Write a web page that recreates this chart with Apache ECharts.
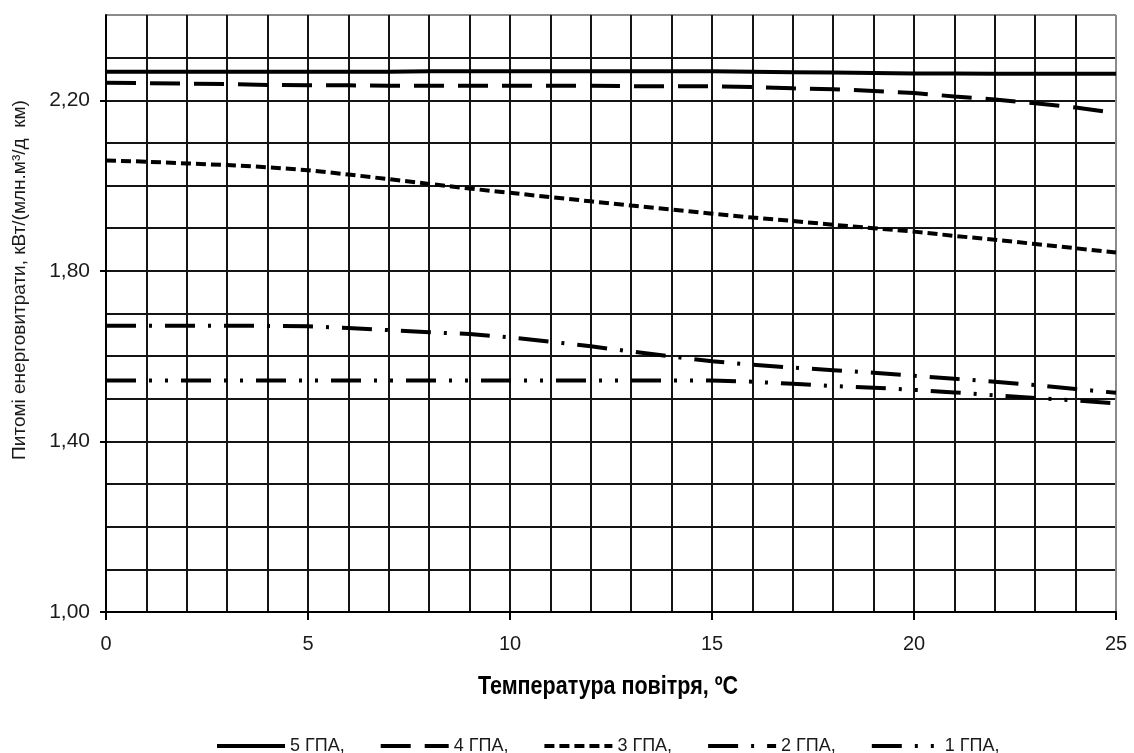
<!DOCTYPE html>
<html>
<head>
<meta charset="utf-8">
<script src="https://cdn.jsdelivr.net/npm/echarts@6/dist/echarts.min.js"></script>
<style>
html,body{margin:0;padding:0;background:#fff;}
#chart{width:1134px;height:753px;}
</style>
</head>
<body>
<div id="chart"></div>
<script>
// ---- data ----
const temps = [0,1,2,3,4,5,6,7,8,9,10,11,12,13,14,15,16,17,18,19,20,21,22,23,24,25];
const seriesNames = ['5 ГПА,', '4 ГПА,', '3 ГПА,', '2 ГПА,', '1 ГПА,'];
const gpa5 = [2.267,2.267,2.267,2.267,2.267,2.267,2.267,2.267,2.268,2.268,2.268,2.268,2.268,2.268,2.268,2.268,2.267,2.266,2.265,2.264,2.263,2.263,2.262,2.262,2.262,2.262];
const gpa4 = [2.241,2.240,2.239,2.238,2.236,2.235,2.235,2.234,2.234,2.234,2.234,2.234,2.234,2.233,2.233,2.233,2.231,2.228,2.226,2.222,2.217,2.209,2.202,2.193,2.183,2.170];
const gpa3 = [2.059,2.056,2.052,2.048,2.043,2.036,2.026,2.015,2.004,1.993,1.983,1.973,1.963,1.953,1.944,1.934,1.925,1.917,1.908,1.900,1.892,1.882,1.873,1.863,1.853,1.843];
const gpa2 = [1.671,1.671,1.671,1.671,1.671,1.670,1.666,1.661,1.656,1.652,1.644,1.634,1.623,1.611,1.599,1.588,1.580,1.573,1.567,1.561,1.554,1.547,1.540,1.532,1.523,1.514];
const gpa1 = [1.543,1.543,1.543,1.543,1.543,1.543,1.543,1.543,1.543,1.543,1.543,1.543,1.543,1.543,1.543,1.543,1.540,1.535,1.530,1.526,1.521,1.515,1.508,1.502,1.496,1.489];
const xTickLabels = [0,5,10,15,20,25];
const yTickLabels = [1.0,1.4,1.8,2.2];
const xTitle = 'Температура повітря, ºC';
const yTitle = 'Питомі енерговитрати, кВт/(млн.м³/д  км)';

// ---- chart ----
const FONT = "'Liberation Sans', Arial, sans-serif";
const dashes = ['solid', [30,14], [10,5], [30,13,3,13], [30,13,3,13,3,13]];
const allSeries = [gpa5, gpa4, gpa3, gpa2, gpa1];

function gridColors(n){ const a=[]; for(let i=0;i<n;i++) a.push(i===n-1?'#8a8a8a':'#141414'); return a; }

const chart = echarts.init(document.getElementById('chart'), null, {renderer:'canvas'});
chart.setOption({
  animation:false,
  backgroundColor:'#fff',
  grid:{left:106,right:18,top:15,bottom:141,containLabel:false},
  xAxis:[{
    type:'value', position:'bottom', min:0, max:25, interval:1,
    axisLine:{show:true,onZero:false,lineStyle:{color:'#000',width:2}},
    axisTick:{show:false}, axisLabel:{show:false},
    splitLine:{show:true,lineStyle:{color:gridColors(26),width:2}}
  },{
    type:'value', position:'bottom', offset:0, min:0, max:25, interval:5,
    axisLine:{show:false},
    axisTick:{show:true,customValues:xTickLabels,length:8,lineStyle:{color:'#000',width:2}},
    axisLabel:{customValues:xTickLabels,fontFamily:FONT,fontSize:20,color:'#1a1a1a',margin:22},
    splitLine:{show:false}
  }],
  yAxis:[{
    type:'value', position:'left', min:1.0, max:2.4, interval:0.1,
    axisLine:{show:true,onZero:false,lineStyle:{color:'#000',width:2}},
    axisTick:{show:false}, axisLabel:{show:false},
    splitLine:{show:true,lineStyle:{color:gridColors(15),width:2}}
  },{
    type:'value', position:'left', offset:0, min:1.0, max:2.4, interval:0.2,
    axisLine:{show:false},
    axisTick:{show:true,customValues:yTickLabels,length:6,lineStyle:{color:'#000',width:2}},
    axisLabel:{customValues:yTickLabels,fontFamily:FONT,fontSize:21,color:'#1a1a1a',margin:16,
      formatter:v=>v.toFixed(2).replace('.',',')},
    splitLine:{show:false}
  }],
  legend:{
    left:210, top:732, itemWidth:68, itemHeight:14, itemGap:34,
    itemStyle:{opacity:0},
    lineStyle:{width:4},
    textStyle:{fontFamily:FONT,fontSize:18,color:'#1a1a1a'},
    data:seriesNames
  },
  series: allSeries.map((vals,i)=>({
    name:seriesNames[i], type:'line', symbol:'none', showSymbol:false,
    xAxisIndex:0, yAxisIndex:0,
    data: temps.map((t,j)=>[t, vals[j]]),
    lineStyle:{color:'#000',width:4,type:dashes[i],cap:'butt'},
    itemStyle:{color:'#000'}
  })),
  graphic:[
    {type:'text', x:20, y:280, rotation:Math.PI/2,
     style:{text:yTitle, font:"19px "+FONT, fill:'#1a1a1a', textAlign:'center', textVerticalAlign:'middle', align:'center', verticalAlign:'middle'}},
    {type:'text', x:608, y:687, scaleX:0.86,
     style:{text:xTitle, font:"bold 25px "+FONT, fill:'#000', textAlign:'center', textVerticalAlign:'middle', align:'center', verticalAlign:'middle'}}
  ]
});
</script>
</body>
</html>
